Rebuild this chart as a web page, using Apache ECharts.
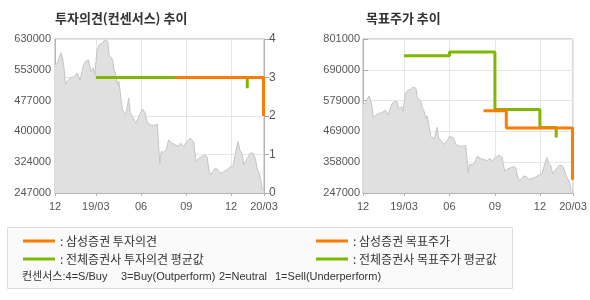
<!DOCTYPE html>
<html><head><meta charset="utf-8">
<script src="https://cdn.jsdelivr.net/npm/echarts@6/dist/echarts.min.js"></script>
<style>html,body{margin:0;padding:0;background:#fff}#c{width:590px;height:300px}</style>
</head><body><div id="c"></div>
<script>
// ---- data ----
const priceDates = ['2018-12-08','2018-12-13','2018-12-20','2018-12-23','2018-12-26','2018-12-29','2019-01-02','2019-01-09','2019-01-16','2019-01-22','2019-01-28','2019-02-04','2019-02-08','2019-02-14','2019-02-19','2019-02-24','2019-02-27','2019-03-03','2019-03-08','2019-03-15','2019-03-19','2019-03-25','2019-03-28','2019-04-04','2019-04-07','2019-04-10','2019-04-14','2019-04-17','2019-04-21','2019-04-24','2019-05-01','2019-05-04','2019-05-07','2019-05-10','2019-05-14','2019-05-21','2019-05-28','2019-06-01','2019-06-04','2019-06-09','2019-06-14','2019-06-21','2019-06-27','2019-07-04','2019-07-08','2019-07-09','2019-07-12','2019-07-17','2019-07-23','2019-07-27','2019-08-03','2019-08-10','2019-08-16','2019-08-20','2019-08-27','2019-09-02','2019-09-09','2019-09-16','2019-09-18','2019-09-21','2019-09-26','2019-10-03','2019-10-08','2019-10-13','2019-10-17','2019-10-20','2019-10-25','2019-10-30','2019-11-04','2019-11-09','2019-11-16','2019-11-23','2019-11-30','2019-12-05','2019-12-10','2019-12-15','2019-12-19','2019-12-23','2019-12-27','2020-01-03','2020-01-09','2020-01-15','2020-01-19','2020-01-23','2020-01-26','2020-01-30','2020-02-02','2020-02-06'];
const prices = [566000,570000,596000,583000,562000,518000,526000,533000,537000,545000,528000,566000,574000,578000,549000,558000,541000,599000,616000,620000,628000,624000,591000,578000,553000,545000,516000,525000,483000,454000,441000,441000,483000,446000,438000,421000,438000,450000,456000,446000,421000,416000,415000,418000,418000,321000,350000,348000,358000,379000,371000,367000,363000,371000,363000,375000,383000,375000,350000,325000,333000,338000,342000,338000,304000,292000,300000,309000,305000,296000,300000,305000,313000,313000,346000,375000,354000,346000,317000,333000,346000,346000,333000,309000,300000,284000,259000,252000];

// investment opinion (step changes)
const samsungOpinionDates = ['2019-08-09','2020-02-05'];
const samsungOpinion = [3, 2];
const avgOpinionDates = ['2019-03-01','2020-01-03'];
const avgOpinion = [3, 2.72];

// target price (step changes)
const samsungTargetDates = ['2019-08-09','2019-09-24','2020-02-05'];
const samsungTarget = [543000, 481000, 295000];
const avgTargetDates = ['2019-03-01','2019-06-01','2019-09-01','2019-12-01','2020-01-03'];
const avgTarget = [741000, 754000, 547000, 483000, 447000];

// axes
const xMin = '2018-12-08', xMax = '2020-02-06';
const xTickDates = ['2018-12-08','2019-03-01','2019-06-01','2019-09-01','2019-12-01','2020-02-06'];
const xTickLabels = ['12','19/03','06','09','12','20/03'];
const leftPriceTicks = ['247000','324000','400000','477000','553000','630000'];
const rightPriceTicks = ['247000','358000','469000','579000','690000','801000'];
const opinionTicks = ['0','1','2','3','4'];

const names = {
  sOp: '삼성증권 투자의견', aOp: '전체증권사 투자의견 평균값',
  sTp: '삼성증권 목표주가', aTp: '전체증권사 목표주가 평균값'
};
const consensusNotes = ['컨센서스:4=S/Buy', '3=Buy(Outperform)', '2=Neutral', '1=Sell(Underperform)'];

// ---- build ----
const T = s => { const p = s.split('-').map(Number); return Date.UTC(p[0], p[1] - 1, p[2]); };
const zip = (d, v) => d.map((x, i) => [T(x), v[i]]);
const xTickVals = xTickDates.map(T);
const ORANGE = '#ff7a00', GREEN = '#7cb900', AXIS = '#b4b4b4', GRID = '#e6e6e6', LBL = '#555';
const FONT = '"Liberation Sans", "Noto Sans CJK KR", sans-serif';
const KFONT = '"Noto Sans CJK KR", sans-serif';

function xAxis(gi) {
  return {
    type: 'value', gridIndex: gi, min: T(xMin), max: T(xMax),
    axisLine: { show: true, onZero: false, lineStyle: { color: AXIS } },
    axisTick: { show: true, length: 3, lineStyle: { color: AXIS }, customValues: xTickVals },
    splitLine: { show: true, lineStyle: { color: GRID } },
    axisLabel: {
      customValues: xTickVals, color: LBL, fontSize: 11, fontFamily: FONT, margin: 8,
      showMinLabel: true, showMaxLabel: true, hideOverlap: false,
      formatter: v => { const i = xTickVals.indexOf(v); return i >= 0 ? xTickLabels[i] : ''; }
    }
  };
}
function priceAxis(gi, ticks, split, inside) {
  const mn = +ticks[0], mx = +ticks[ticks.length - 1];
  return {
    type: 'value', gridIndex: gi, min: mn, max: mx, interval: (mx - mn) / (ticks.length - 1),
    axisLine: { show: true, onZero: false, lineStyle: { color: AXIS } },
    axisTick: { show: inside, inside: true, length: 5, lineStyle: { color: '#aaa' } },
    splitLine: { show: split, lineStyle: { color: GRID } },
    axisLabel: { color: LBL, fontSize: 11, fontFamily: FONT, margin: inside ? 3 : 4,
      formatter: (v, i) => ticks[i] }
  };
}
const noteX = [22, 121, 219, 275];

const option = {
  animation: false,
  textStyle: { fontFamily: FONT },
  title: [
    { text: '투자의견(컨센서스) 추이', left: 55, top: 12, padding: 0, textStyle: { fontSize: 13, fontWeight: 'bold', color: '#333', fontFamily: KFONT } },
    { text: '목표주가 추이', left: 366, top: 12, padding: 0, textStyle: { fontSize: 13, fontWeight: 'bold', color: '#333', fontFamily: KFONT } }
  ],
  grid: [
    { left: 55, top: 39, width: 209, height: 154, show: true, borderColor: AXIS, borderWidth: 1, containLabel: false },
    { left: 363, top: 39, width: 210, height: 154, show: true, borderColor: AXIS, borderWidth: 1, containLabel: false }
  ],
  xAxis: [xAxis(0), xAxis(1)],
  yAxis: [
    priceAxis(0, leftPriceTicks, false, false),
    { type: 'value', gridIndex: 0, position: 'right', min: 0, max: 4, interval: 1,
      axisLine: { show: true, lineStyle: { color: AXIS } },
      axisTick: { show: true, length: 5, lineStyle: { color: '#aaa' } },
      splitLine: { show: true, lineStyle: { color: GRID } },
      axisLabel: { color: LBL, fontSize: 12, fontFamily: FONT, margin: 5, formatter: (v, i) => opinionTicks[i] } },
    priceAxis(1, rightPriceTicks, true, true)
  ],
  legend: [
    { orient: 'vertical', left: 23, top: 234, padding: 0, icon: 'rect', itemWidth: 32, itemHeight: 3, itemGap: 4,
      data: [names.sOp, names.aOp], formatter: n => ': ' + n, selectedMode: false,
      textStyle: { fontSize: 12, lineHeight: 14, color: '#333', fontFamily: KFONT } },
    { orient: 'vertical', left: 316, top: 234, padding: 0, icon: 'rect', itemWidth: 32, itemHeight: 3, itemGap: 4,
      data: [names.sTp, names.aTp], formatter: n => ': ' + n, selectedMode: false,
      textStyle: { fontSize: 12, lineHeight: 14, color: '#333', fontFamily: KFONT } }
  ],
  graphic: [
    { type: 'rect', z: -10, shape: { x: 7.5, y: 227.5, width: 505, height: 61 }, style: { fill: '#fafafa', stroke: '#dcdcdc', lineWidth: 1 } }
  ].concat(consensusNotes.map((t, i) => ({
    type: 'text', x: noteX[i], y: 277, style: { text: t, fill: '#333', verticalAlign: 'middle', font: '11px ' + FONT }
  }))),
  series: [
    { type: 'line', xAxisIndex: 0, yAxisIndex: 0, data: zip(priceDates, prices), symbol: 'none',
      lineStyle: { color: '#c4c4c4', width: 1 }, areaStyle: { color: '#e0e0e0', opacity: 1 }, z: 1, silent: true },
    { type: 'line', xAxisIndex: 1, yAxisIndex: 2, data: zip(priceDates, prices), symbol: 'none',
      lineStyle: { color: '#c4c4c4', width: 1 }, areaStyle: { color: '#e0e0e0', opacity: 1 }, z: 1, silent: true },
    { name: names.aOp, type: 'line', xAxisIndex: 0, yAxisIndex: 1, step: 'end', data: zip(avgOpinionDates, avgOpinion),
      symbol: 'none', itemStyle: { color: GREEN }, lineStyle: { color: GREEN, width: 3 }, z: 3 },
    { name: names.sOp, type: 'line', xAxisIndex: 0, yAxisIndex: 1, step: 'end', data: zip(samsungOpinionDates, samsungOpinion),
      symbol: 'none', itemStyle: { color: ORANGE }, lineStyle: { color: ORANGE, width: 3 }, z: 4 },
    { name: names.aTp, type: 'line', xAxisIndex: 1, yAxisIndex: 2, step: 'end', data: zip(avgTargetDates, avgTarget),
      symbol: 'none', itemStyle: { color: GREEN }, lineStyle: { color: GREEN, width: 3 }, z: 3 },
    { name: names.sTp, type: 'line', xAxisIndex: 1, yAxisIndex: 2, step: 'end', data: zip(samsungTargetDates, samsungTarget),
      symbol: 'none', itemStyle: { color: ORANGE }, lineStyle: { color: ORANGE, width: 3 }, z: 4 }
  ]
};
const chart = echarts.init(document.getElementById('c'), null, { renderer: 'canvas' });
chart.setOption(option);
</script>
</body></html>
